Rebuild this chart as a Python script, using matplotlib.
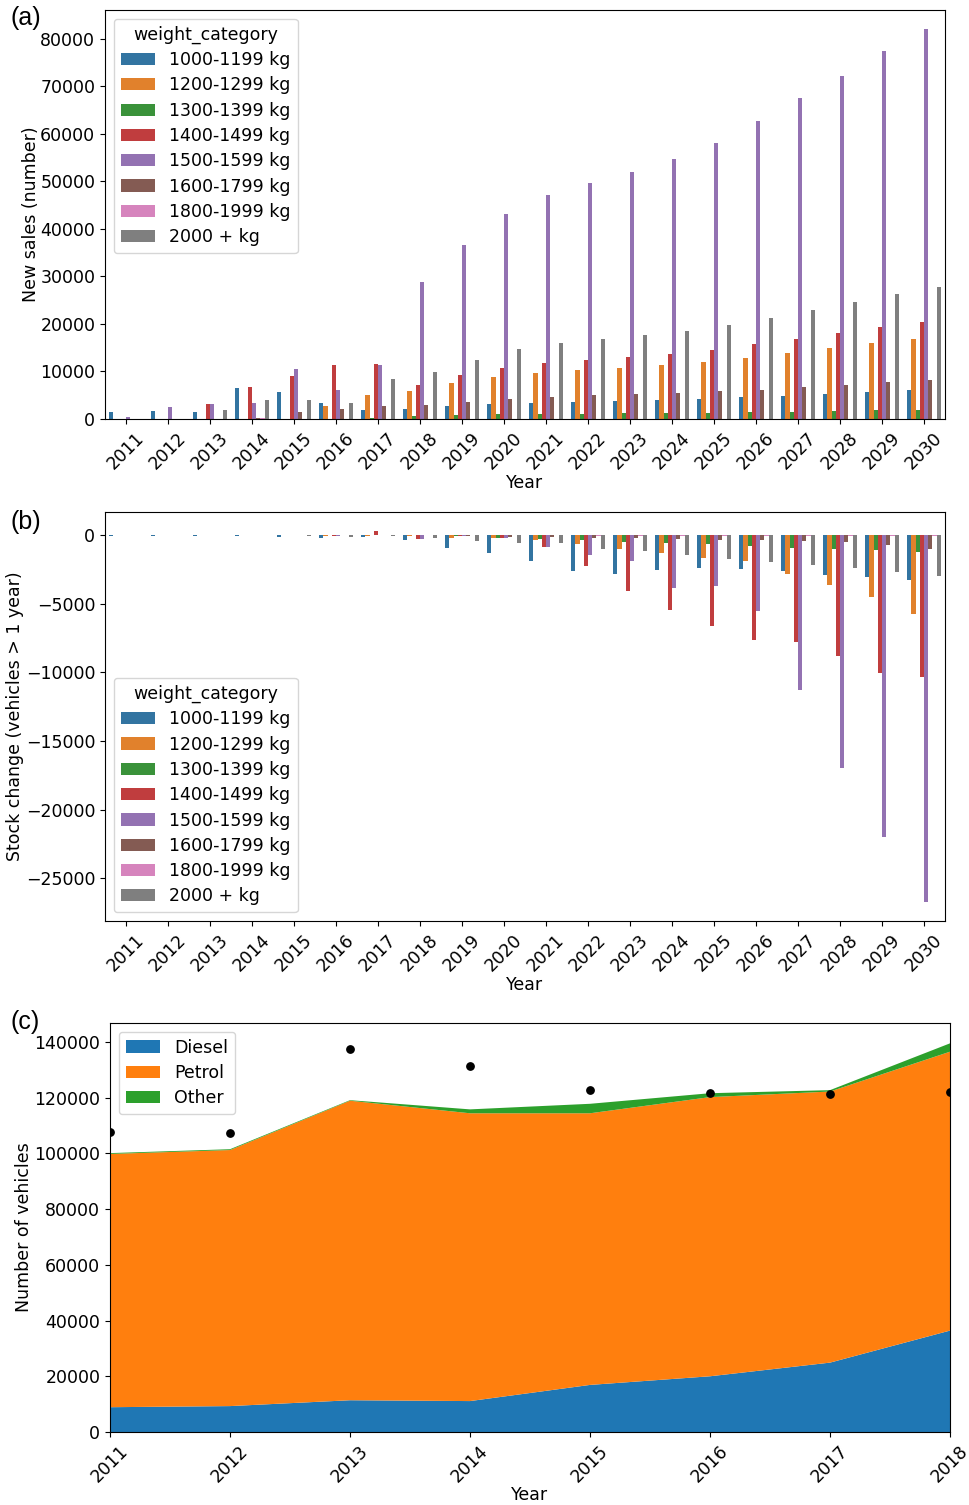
import numpy as np
import matplotlib
matplotlib.use("Agg")
import matplotlib.pyplot as plt

plt.rcParams['font.family'] = ['DejaVu Sans']
plt.rcParams['font.size'] = 12.5
plt.rcParams['legend.labelspacing'] = 0.42
plt.rcParams['axes.labelpad'] = 2.5

years = list(range(2011, 2031))
categories = ["1000-1199 kg", "1200-1299 kg", "1300-1399 kg", "1400-1499 kg",
              "1500-1599 kg", "1600-1799 kg", "1800-1999 kg", "2000 + kg"]
cat_colors = ["#3274a1", "#e1812c", "#3a923a", "#c03d3e",
              "#9372b2", "#845b53", "#d684bd", "#7f7f7f"]

# Panel (a): new sales
sales_1000 = [1500, 1700, 1500, 6600, 5700, 3400, 1900, 2100, 2700, 3100, 3400, 3600, 3800, 4000, 4200, 4600, 4900, 5300, 5600, 6000]
sales_1200 = [0, 0, 0, 0, 0, 2700, 5100, 5900, 7600, 8900, 9700, 10200, 10700, 11300, 12000, 12900, 13800, 14900, 15900, 16800]
sales_1300 = [0, 0, 0, 0, 0, 0, 200, 700, 900, 1100, 1100, 1100, 1200, 1300, 1300, 1500, 1500, 1700, 1800, 1900]
sales_1400 = [0, 0, 3100, 6800, 9000, 11300, 11600, 7200, 9200, 10700, 11700, 12400, 13000, 13700, 14500, 15700, 16800, 18000, 19300, 20500]
sales_1500 = [400, 2500, 3100, 3400, 10500, 6000, 11300, 28900, 36600, 43200, 47200, 49700, 52000, 54700, 58100, 62700, 67400, 72200, 77300, 81900]
sales_1600 = [0, 0, 0, 200, 1500, 2000, 2800, 2900, 3600, 4300, 4700, 5000, 5200, 5500, 5800, 6200, 6700, 7200, 7700, 8200]
sales_1800 = [0, 0, 0, 150, 0, 0, 0, 0, 0, 0, 0, 0, 0, 0, 0, 0, 0, 0, 0, 0]
sales_2000 = [0, 0, 1900, 3900, 3900, 3400, 8500, 9800, 12400, 14700, 15900, 16800, 17700, 18500, 19700, 21200, 22900, 24500, 26200, 27700]

# Panel (b): stock change
stock_1000 = [-70, -80, -100, -100, -140, -220, -170, -390, -950, -1300, -1870, -2650, -2840, -2530, -2410, -2450, -2620, -2890, -3040, -3280]
stock_1200 = [-20, -20, -20, -20, -30, -40, -50, -50, -240, -240, -360, -630, -1000, -1340, -1650, -1900, -2820, -3620, -4520, -5760]
stock_1300 = [0, 0, 0, 0, -20, -20, -30, -30, -50, -190, -270, -390, -490, -560, -660, -780, -920, -1020, -1090, -1210]
stock_1400 = [0, 0, 0, 0, -30, -70, 320, -320, -40, -240, -850, -2290, -4100, -5490, -6610, -7630, -7780, -8820, -10040, -10330]
stock_1500 = [0, 0, 0, 0, -20, -70, -30, -290, -70, -190, -850, -1460, -1870, -3890, -3720, -5540, -11300, -17000, -22000, -26750]
stock_1600 = [0, 0, 0, 0, 0, -20, -20, -30, -70, -150, -150, -190, -240, -290, -340, -360, -440, -530, -730, -1000]
stock_1800 = [0, 0, 0, 0, 0, 0, 0, 0, 0, 0, -30, -40, -40, -40, -50, -50, -50, -60, -60, -70]
stock_2000 = [0, 0, 0, -20, -100, -120, -50, -240, -460, -580, -610, -1000, -1170, -1460, -1730, -1940, -2160, -2430, -2700, -3010]

sales = [sales_1000, sales_1200, sales_1300, sales_1400, sales_1500, sales_1600, sales_1800, sales_2000]
stock = [stock_1000, stock_1200, stock_1300, stock_1400, stock_1500, stock_1600, stock_1800, stock_2000]

# Panel (c): fleet composition
fleet_years = [2011, 2012, 2013, 2014, 2015, 2016, 2017, 2018]
diesel = [8900, 9300, 11400, 11100, 16900, 20000, 24900, 36400]
petrol = [90900, 91900, 107500, 103300, 97500, 100200, 97300, 100100]
other = [300, 300, 200, 1400, 3400, 1400, 500, 3000]
observed_total = [107700, 107400, 137400, 131200, 122800, 121800, 121400, 122100]

fig = plt.figure(figsize=(9.69, 15.05), dpi=100)
W, H = 969, 1505

def add_ax(l, t, r, b):
    return fig.add_axes([l / W, 1 - b / H, (r - l) / W, (b - t) / H])

ax_a = add_ax(105, 10, 945, 419)
ax_b = add_ax(105, 512, 945, 921)
ax_c = add_ax(110, 1023, 950, 1432)

def grouped_bars(ax, data):
    n = len(categories)
    w = 0.8 / n
    x = np.arange(len(years))
    for i, (vals, col, lab) in enumerate(zip(data, cat_colors, categories)):
        ax.bar(x - 0.4 + w * (i + 0.5), vals, width=w, color=col, label=lab)
    ax.set_xlim(-0.5, len(years) - 0.5)
    ax.set_xticks(x)
    ax.set_xticklabels([str(y) for y in years], rotation=45)
    ax.set_xlabel("Year", labelpad=1)

grouped_bars(ax_a, sales)
ax_a.set_ylabel("New sales (number)", labelpad=0)
ax_a.legend(title="weight_category", loc="upper left", fontsize=12.5, title_fontsize=12.5)

grouped_bars(ax_b, stock)
ax_b.set_ylabel("Stock change (vehicles > 1 year)", labelpad=1)
ax_b.legend(title="weight_category", loc="lower left", fontsize=12.5, title_fontsize=12.5)

ax_c.stackplot(fleet_years, diesel, petrol, other,
               labels=["Diesel", "Petrol", "Other"],
               colors=["#1f77b4", "#ff7f0e", "#2ca02c"])
ax_c.scatter(fleet_years, observed_total, color="black", s=28, zorder=3)
ax_c.set_xlim(2011, 2018)
ax_c.set_ylim(0, 146800)
ax_c.set_xticks(fleet_years)
ax_c.set_xticklabels([str(y) for y in fleet_years], rotation=45)
ax_c.set_xlabel("Year", labelpad=0)
ax_c.set_ylabel("Number of vehicles", labelpad=1)
ax_c.legend(loc="upper left", fontsize=12.5)

for lab, y in [("(a)", 6), ("(b)", 510), ("(c)", 1010)]:
    fig.text(10 / W, 1 - y / H, lab, fontsize=18, family=["Liberation Sans"], va="top", ha="left")

fig.savefig("out.png", dpi=100)
